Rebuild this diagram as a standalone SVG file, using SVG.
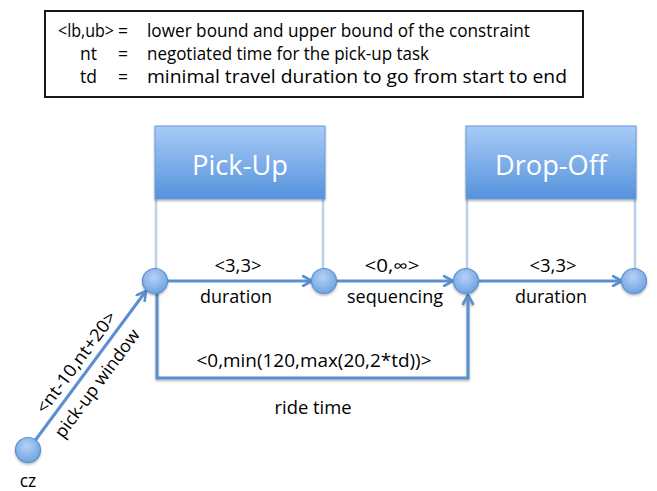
<svg xmlns="http://www.w3.org/2000/svg" width="657" height="491" viewBox="0 0 657 491">
<defs>
<linearGradient id="boxg" x1="0" y1="0" x2="0" y2="1">
<stop offset="0" stop-color="#a8cbf8"/>
<stop offset="1" stop-color="#5592db"/>
</linearGradient>
<radialGradient id="nodeg" cx="0.45" cy="0.35" r="0.7">
<stop offset="0" stop-color="#b5d1f5"/>
<stop offset="1" stop-color="#6a9fe0"/>
</radialGradient>
<filter id="sh" x="-20%" y="-20%" width="140%" height="150%">
<feDropShadow dx="0" dy="1.5" stdDeviation="1.2" flood-color="#000" flood-opacity="0.3"/>
</filter>
<marker id="arr" viewBox="0 0 12 12" refX="10" refY="6" markerWidth="12" markerHeight="12" markerUnits="userSpaceOnUse" orient="auto">
<path d="M1,1 L10,6 L1,11" fill="none" stroke="#5b8fcf" stroke-width="2.6" stroke-linecap="round" stroke-linejoin="round"/>
</marker>
</defs>
<style>
text{font-family:"Open Sans","Liberation Sans",sans-serif;fill:#000}
.leg{font-size:17.5px}
.lbl{font-size:17.5px}
.title{font-size:27.5px;fill:#fff}
.box{fill:url(#boxg);stroke:#6a9ad6;stroke-width:1}
.node{fill:url(#nodeg);stroke:#5b8fcf;stroke-width:1.2}
.vl{stroke:#bcd1e8;stroke-width:2.5;fill:none}
.edge{stroke:#5b8fcf;stroke-width:3;fill:none}
</style>
<rect width="657" height="491" fill="#fff"/>
<g id="legend">
<rect x="45" y="11" width="538" height="86" fill="#fff" stroke="#000" stroke-width="1.8"/>
<text class="leg" x="58" y="37" textLength="56" lengthAdjust="spacingAndGlyphs">&lt;lb,ub&gt;</text>
<text class="leg" x="118" y="37">=</text>
<text class="leg" x="147" y="37" textLength="383" lengthAdjust="spacingAndGlyphs">lower bound and upper bound of the constraint</text>
<text class="leg" x="80" y="60">nt</text>
<text class="leg" x="118" y="60">=</text>
<text class="leg" x="147" y="60" textLength="282" lengthAdjust="spacingAndGlyphs">negotiated time for the pick-up task</text>
<text class="leg" x="80" y="83">td</text>
<text class="leg" x="118" y="83">=</text>
<text class="leg" x="147" y="83" textLength="420" lengthAdjust="spacingAndGlyphs">minimal travel duration to go from start to end</text>
</g>
<g id="pickup">
<line class="vl" x1="156" y1="199" x2="156" y2="270"/>
<line class="vl" x1="323" y1="199" x2="323" y2="270"/>
<rect class="box" x="155" y="126" width="170" height="73" filter="url(#sh)"/>
<text class="title" x="240" y="175" text-anchor="middle" textLength="96" lengthAdjust="spacingAndGlyphs">Pick-Up</text>
</g>
<g id="dropoff">
<line class="vl" x1="467" y1="199" x2="467" y2="270"/>
<line class="vl" x1="635" y1="199" x2="635" y2="270"/>
<rect class="box" x="466" y="126" width="170" height="73" filter="url(#sh)"/>
<text class="title" x="551" y="175" text-anchor="middle" textLength="112" lengthAdjust="spacingAndGlyphs">Drop-Off</text>
</g>
<g id="connectors">
<line class="edge" x1="167" y1="281" x2="312" y2="281" marker-end="url(#arr)"/>
<line class="edge" x1="337" y1="281" x2="453" y2="281" marker-end="url(#arr)"/>
<line class="edge" x1="478" y1="281" x2="622" y2="281" marker-end="url(#arr)"/>
<polyline class="edge" points="157,292 157,378 468,378 468,295" marker-end="url(#arr)" filter="url(#sh)"/>
<line class="edge" x1="34" y1="442" x2="146" y2="291" marker-end="url(#arr)"/>
<text class="lbl" x="238" y="272" text-anchor="middle" textLength="47" lengthAdjust="spacingAndGlyphs">&lt;3,3&gt;</text>
<text class="lbl" x="236" y="303" text-anchor="middle" textLength="72" lengthAdjust="spacingAndGlyphs">duration</text>
<text class="lbl" x="392" y="272" text-anchor="middle" textLength="55" lengthAdjust="spacingAndGlyphs">&lt;0,∞&gt;</text>
<text class="lbl" x="395" y="303" text-anchor="middle" textLength="96" lengthAdjust="spacingAndGlyphs">sequencing</text>
<text class="lbl" x="553" y="272" text-anchor="middle" textLength="47" lengthAdjust="spacingAndGlyphs">&lt;3,3&gt;</text>
<text class="lbl" x="551" y="303" text-anchor="middle" textLength="72" lengthAdjust="spacingAndGlyphs">duration</text>
<text class="lbl" x="314" y="367" text-anchor="middle" textLength="235" lengthAdjust="spacingAndGlyphs">&lt;0,min(120,max(20,2*td))&gt;</text>
<text class="lbl" x="313" y="414" text-anchor="middle" textLength="77" lengthAdjust="spacingAndGlyphs">ride time</text>
<text class="lbl" text-anchor="middle" transform="translate(77,363) rotate(-53.5)" y="5" textLength="122" lengthAdjust="spacingAndGlyphs">&lt;nt-10,nt+20&gt;</text>
<text class="lbl" text-anchor="middle" transform="translate(98,384) rotate(-53.5)" y="5" textLength="130" lengthAdjust="spacingAndGlyphs">pick-up window</text>
</g>
<g id="n1"><circle class="node" cx="155" cy="281" r="12.5" filter="url(#sh)"/></g>
<g id="n2"><circle class="node" cx="324" cy="281" r="12.5" filter="url(#sh)"/></g>
<g id="n3"><circle class="node" cx="466" cy="281" r="12.5" filter="url(#sh)"/></g>
<g id="n4"><circle class="node" cx="634" cy="281" r="12.5" filter="url(#sh)"/></g>
<g id="cz"><circle class="node" cx="28" cy="450" r="12.5" filter="url(#sh)"/>
<text class="lbl" x="28" y="487" text-anchor="middle">cz</text></g>
</svg>
